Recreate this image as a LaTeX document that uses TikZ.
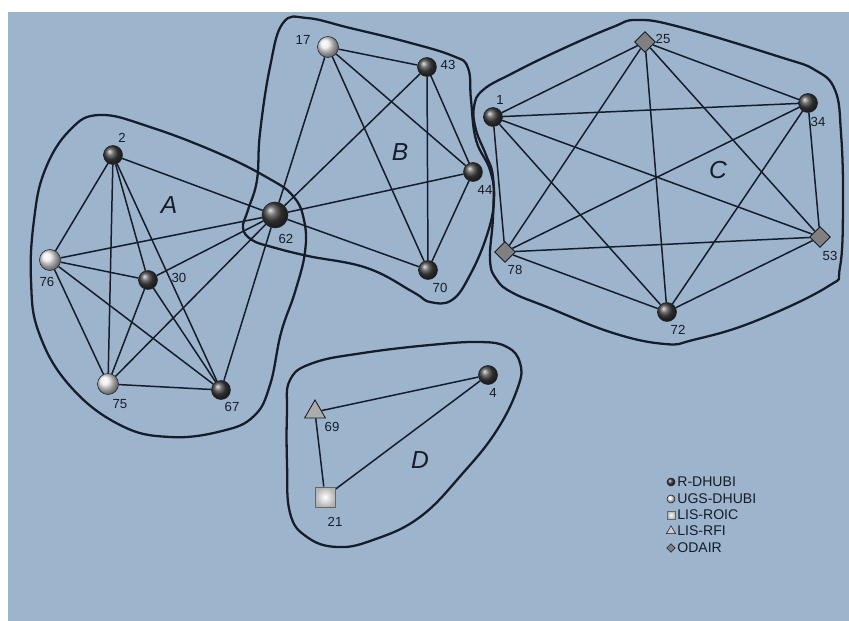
\documentclass[tikz,border=0pt]{standalone}
\usepackage{fontspec}
\setmainfont{Liberation Sans}
\usetikzlibrary{shapes.geometric,backgrounds}
\definecolor{panel}{RGB}{157,180,205}
\definecolor{ink}{RGB}{22,28,40}
\tikzset{
  ball/.style={circle,inner sep=0pt,minimum size=0.38cm,draw=ink,line width=0.3pt,shading=ball,ball color=black!75},
  bigball/.style={ball,minimum size=0.52cm},
  lightball/.style={ball,minimum size=0.42cm,ball color=white!85!gray},
  odair/.style={diamond,inner sep=0pt,minimum size=0.42cm,draw=ink,line width=0.5pt,fill=black!50},
  roic/.style={rectangle,inner sep=0pt,minimum size=0.40cm,draw=black!60,line width=0.5pt,inner color=white,outer color=gray!60},
  rfi/.style={regular polygon,regular polygon sides=3,inner sep=0pt,minimum size=0.48cm,draw=ink,line width=0.5pt,fill=gray!65},
  link/.style={draw=ink,line width=0.85pt},
  hull/.style={draw=ink,line width=1.3pt},
  num/.style={font=\fontsize{7.5}{8}\selectfont,text=ink,inner sep=0pt},
  grp/.style={font=\fontsize{14}{16}\selectfont\itshape,text=ink,inner sep=0pt},
  legtxt/.style={font=\fontsize{8}{9}\selectfont,text=ink,anchor=west,inner sep=0pt}
}
\begin{document}
\begin{tikzpicture}[x=0.02cm,y=-0.02cm]
\useasboundingbox (0,0) rectangle (849,621);

\node[ball] (n2) at (113,155) {};
\node[bigball] (n62) at (275,215) {};
\node[lightball] (n76) at (50,260) {};
\node[ball] (n30) at (148,280) {};
\node[lightball] (n75) at (108,384) {};
\node[ball] (n67) at (221,390) {};
\node[lightball] (n17) at (328,47) {};
\node[ball] (n43) at (427,67) {};
\node[ball] (n44) at (473,172) {};
\node[ball] (n70) at (428,270) {};
\node[ball] (n1) at (493,117) {};
\node[odair] (n25) at (645,42) {};
\node[ball] (n34) at (808,103) {};
\node[odair] (n53) at (820,237) {};
\node[odair] (n78) at (505,252) {};
\node[ball] (n72) at (667,312) {};
\node[ball] (n4) at (488,375) {};
\node[rfi] (n69) at (315,412) {};
\node[roic] (n21) at (325,497) {};

\node[num] (t2) at (122,138) {2};
\node[num] (t62) at (286,239) {62};
\node[num] (t76) at (47,282) {76};
\node[num] (t30) at (179,278) {30};
\node[num] (t75) at (120,404) {75};
\node[num] (t67) at (232,407) {67};
\node[num] (t17) at (303,40) {17};
\node[num] (t43) at (448,65) {43};
\node[num] (t44) at (485,190) {44};
\node[num] (t70) at (440,288) {70};
\node[num] (t1) at (500,100) {1};
\node[num] (t25) at (663,39) {25};
\node[num] (t34) at (818,122) {34};
\node[num] (t53) at (830,256) {53};
\node[num] (t78) at (515,270) {78};
\node[num] (t72) at (678,330) {72};
\node[num] (t4) at (493,393) {4};
\node[num] (t69) at (332,427) {69};
\node[num] (t21) at (335,522) {21};

\node[grp] (gA) at (169,205) {A};
\node[grp] (gB) at (400,152) {B};
\node[grp] (gC) at (718,170) {C};
\node[grp] (gD) at (420,460) {D};

\node[ball,minimum size=0.16cm] (k1) at (671,482) {};
\node[lightball,minimum size=0.16cm] (k2) at (671,499) {};
\node[roic,minimum size=0.16cm,line width=0.3pt] (k3) at (671,515) {};
\node[rfi,minimum size=0.21cm,line width=0.3pt,fill=gray!40] (k4) at (671,531) {};
\node[odair,minimum size=0.17cm,line width=0.3pt] (k5) at (671,548) {};
\node[legtxt] (r1) at (677,482) {R-DHUBI};
\node[legtxt] (r2) at (677,499) {UGS-DHUBI};
\node[legtxt] (r3) at (677,515) {LIS-ROIC};
\node[legtxt] (r4) at (677,531) {LIS-RFI};
\node[legtxt] (r5) at (677,548) {ODAIR};

\begin{pgfonlayer}{background}
\fill[white] (0,0) rectangle (849,621);
\fill[panel] (8,12) rectangle (849,621);
\draw[hull] plot[smooth cycle,tension=0.7] coordinates {(100,115) (150,127) (218,153) (268,178) (293,196) (304,220) (305,252) (295,292) (281,333) (270,385) (254,416) (222,431) (170,437) (120,425) (70,386) (39,333) (31,280) (34,220) (45,170) (70,130)};
\draw[hull] plot[smooth cycle,tension=0.7] coordinates {(283,23) (307,18) (350,28) (407,42) (453,56) (468,68) (471,100) (476,140) (490,170) (494,200) (487,235) (470,275) (452,300) (430,302) (413,292) (367,268) (308,256) (272,247) (252,240) (243,228) (248,210) (257,180) (260,133) (270,67)};
\draw[hull] plot[smooth cycle,tension=0.7] coordinates {(637,20) (680,27) (780,57) (815,70) (835,90) (841,133) (843,200) (840,267) (827,287) (753,322) (693,340) (665,344) (613,333) (547,307) (513,293) (497,280) (490,260) (493,217) (493,177) (486,155) (476,130) (474,107) (483,90) (513,73) (560,50) (613,27)};
\draw[hull] plot[smooth cycle,tension=0.7] coordinates {(290,380) (313,363) (363,353) (430,345) (480,342) (507,347) (520,363) (518,387) (497,430) (463,473) (420,517) (373,540) (337,547) (307,537) (290,513) (287,463) (287,413)};

\draw[link] (n2) -- (n62);
\draw[link] (n2) -- (n76);
\draw[link] (n2) -- (n30);
\draw[link] (n2) -- (n75);
\draw[link] (n2) -- (n67);
\draw[link] (n76) -- (n30);
\draw[link] (n76) -- (n75);
\draw[link] (n76) -- (n67);
\draw[link] (n76) -- (n62);
\draw[link] (n30) -- (n75);
\draw[link] (n30) -- (n67);
\draw[link] (n30) -- (n62);
\draw[link] (n75) -- (n67);
\draw[link] (n75) -- (n62);
\draw[link] (n67) -- (n62);

\draw[link] (n17) -- (n43);
\draw[link] (n17) -- (n44);
\draw[link] (n17) -- (n70);
\draw[link] (n17) -- (n62);
\draw[link] (n43) -- (n44);
\draw[link] (n43) -- (n70);
\draw[link] (n43) -- (n62);
\draw[link] (n44) -- (n70);
\draw[link] (n44) -- (n62);
\draw[link] (n70) -- (n62);

\draw[link] (n1) -- (n25);
\draw[link] (n1) -- (n34);
\draw[link] (n1) -- (n53);
\draw[link] (n1) -- (n72);
\draw[link] (n1) -- (n78);
\draw[link] (n25) -- (n34);
\draw[link] (n25) -- (n53);
\draw[link] (n25) -- (n72);
\draw[link] (n25) -- (n78);
\draw[link] (n34) -- (n53);
\draw[link] (n34) -- (n72);
\draw[link] (n34) -- (n78);
\draw[link] (n53) -- (n72);
\draw[link] (n53) -- (n78);
\draw[link] (n72) -- (n78);

\draw[link] (n69) -- (n4);
\draw[link] (n69) -- (n21);
\draw[link] (n21) -- (n4);
\end{pgfonlayer}
\end{tikzpicture}
\end{document}
